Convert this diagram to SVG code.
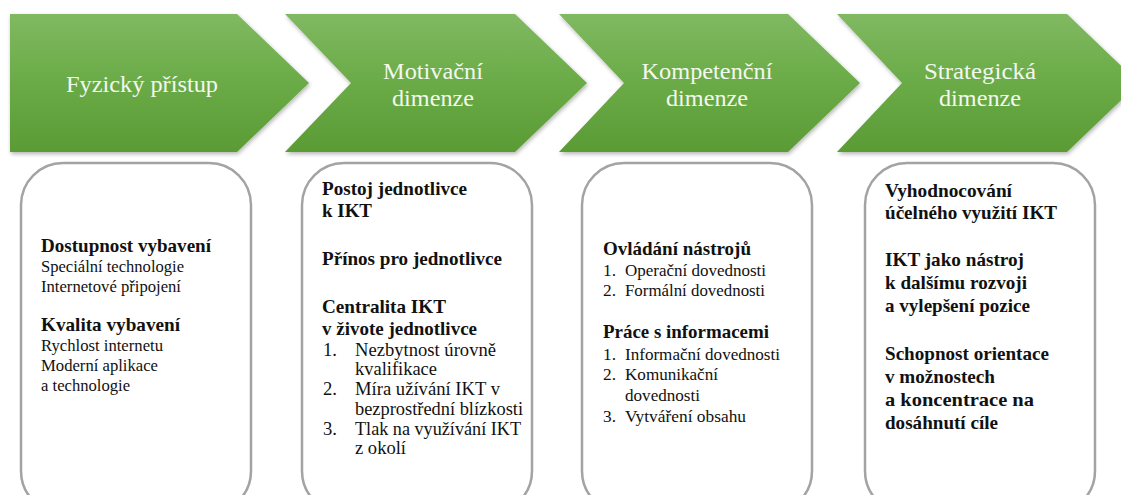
<svg xmlns="http://www.w3.org/2000/svg" width="1121" height="495" viewBox="0 0 1121 495">
  <style>
    .chev { fill: url(#greenGrad); filter: url(#chevShadow); }
    .chevText { font-size: 24px; fill: #f3f8ee; text-anchor: middle; }
    .card { fill: #ffffff; stroke: #a3a3a3; stroke-width: 2.5; }
    .t { fill: #111111; }
    .h { font-weight: bold; font-size: 19px; }
    .r1 { font-size: 16.5px; }
    .r2 { font-size: 18.5px; }
    .r3 { font-size: 17px; }
  </style>
  <defs>
    <linearGradient id="greenGrad" x1="0" y1="0" x2="0" y2="1">
      <stop offset="0" stop-color="#80b961"/>
      <stop offset="0.5" stop-color="#6aab47"/>
      <stop offset="1" stop-color="#5a9b35"/>
    </linearGradient>
    <filter id="chevShadow" x="-5%" y="-10%" width="115%" height="125%">
      <feGaussianBlur in="SourceAlpha" stdDeviation="2"/>
      <feOffset dx="1" dy="2"/>
      <feComponentTransfer><feFuncA type="linear" slope="0.3"/></feComponentTransfer>
      <feMerge><feMergeNode/><feMergeNode in="SourceGraphic"/></feMerge>
    </filter>
  </defs>

  <rect width="1121" height="495" fill="#ffffff"/>

  <!-- chevron headers -->
  <g id="step-fyzicky">
    <polygon class="chev" points="10,14 237,14 309,83 237,152 10,152"/>
    <text class="chevText" font-family="Liberation Serif, DejaVu Serif, serif" x="142" y="92" textLength="152" lengthAdjust="spacingAndGlyphs">Fyzický přístup</text>
  </g>
  <g id="step-motivacni">
    <polygon class="chev" points="285,14 515,14 587,83 515,152 285,152 351,83"/>
    <text class="chevText" font-family="Liberation Serif, DejaVu Serif, serif" x="433" y="79" textLength="100" lengthAdjust="spacingAndGlyphs">Motivační</text>
    <text class="chevText" font-family="Liberation Serif, DejaVu Serif, serif" x="433" y="106" textLength="82" lengthAdjust="spacingAndGlyphs">dimenze</text>
  </g>
  <g id="step-kompetencni">
    <polygon class="chev" points="559,14 788,14 860,83 788,152 559,152 624,83"/>
    <text class="chevText" font-family="Liberation Serif, DejaVu Serif, serif" x="707" y="79" textLength="131" lengthAdjust="spacingAndGlyphs">Kompetenční</text>
    <text class="chevText" font-family="Liberation Serif, DejaVu Serif, serif" x="707" y="106" textLength="82" lengthAdjust="spacingAndGlyphs">dimenze</text>
  </g>
  <g id="step-strategicka">
    <polygon class="chev" points="837,14 1067,14 1139,83 1067,152 837,152 902,83"/>
    <text class="chevText" font-family="Liberation Serif, DejaVu Serif, serif" x="980" y="79" textLength="112" lengthAdjust="spacingAndGlyphs">Strategická</text>
    <text class="chevText" font-family="Liberation Serif, DejaVu Serif, serif" x="980" y="106" textLength="82" lengthAdjust="spacingAndGlyphs">dimenze</text>
  </g>

  <!-- detail cards -->
  <g id="card-fyzicky">
    <rect class="card" x="21" y="163" width="230" height="350" rx="42"/>
    <text class="t h" font-family="Liberation Serif, DejaVu Serif, serif" x="41" y="252" textLength="170" lengthAdjust="spacingAndGlyphs">Dostupnost vybavení</text>
    <text class="t r1" font-family="Liberation Serif, DejaVu Serif, serif" x="41" y="272" textLength="143" lengthAdjust="spacingAndGlyphs">Speciální technologie</text>
    <text class="t r1" font-family="Liberation Serif, DejaVu Serif, serif" x="41" y="292" textLength="140" lengthAdjust="spacingAndGlyphs">Internetové připojení</text>
    <text class="t h" font-family="Liberation Serif, DejaVu Serif, serif" x="41" y="331" textLength="139" lengthAdjust="spacingAndGlyphs">Kvalita vybavení</text>
    <text class="t r1" font-family="Liberation Serif, DejaVu Serif, serif" x="41" y="351" textLength="122" lengthAdjust="spacingAndGlyphs">Rychlost internetu</text>
    <text class="t r1" font-family="Liberation Serif, DejaVu Serif, serif" x="41" y="371" textLength="117" lengthAdjust="spacingAndGlyphs">Moderní aplikace</text>
    <text class="t r1" font-family="Liberation Serif, DejaVu Serif, serif" x="41" y="391" textLength="89" lengthAdjust="spacingAndGlyphs">a technologie</text>
  </g>

  <g id="card-motivacni">
    <rect class="card" x="302" y="163" width="230" height="350" rx="42"/>
    <text class="t h" font-family="Liberation Serif, DejaVu Serif, serif" x="322" y="195" textLength="145" lengthAdjust="spacingAndGlyphs">Postoj jednotlivce</text>
    <text class="t h" font-family="Liberation Serif, DejaVu Serif, serif" x="322" y="217" textLength="50" lengthAdjust="spacingAndGlyphs">k IKT</text>
    <text class="t h" font-family="Liberation Serif, DejaVu Serif, serif" x="322" y="265" textLength="180" lengthAdjust="spacingAndGlyphs">Přínos pro jednotlivce</text>
    <text class="t h" font-family="Liberation Serif, DejaVu Serif, serif" x="322" y="313" textLength="124" lengthAdjust="spacingAndGlyphs">Centralita IKT</text>
    <text class="t h" font-family="Liberation Serif, DejaVu Serif, serif" x="322" y="335" textLength="155" lengthAdjust="spacingAndGlyphs">v živote jednotlivce</text>
    <text class="t r2" font-family="Liberation Serif, DejaVu Serif, serif" x="323" y="356" textLength="14" lengthAdjust="spacingAndGlyphs">1.</text>
    <text class="t r2" font-family="Liberation Serif, DejaVu Serif, serif" x="355" y="356" textLength="141" lengthAdjust="spacingAndGlyphs">Nezbytnost úrovně</text>
    <text class="t r2" font-family="Liberation Serif, DejaVu Serif, serif" x="355" y="375" textLength="82" lengthAdjust="spacingAndGlyphs">kvalifikace</text>
    <text class="t r2" font-family="Liberation Serif, DejaVu Serif, serif" x="323" y="395" textLength="14" lengthAdjust="spacingAndGlyphs">2.</text>
    <text class="t r2" font-family="Liberation Serif, DejaVu Serif, serif" x="355" y="395" textLength="145" lengthAdjust="spacingAndGlyphs">Míra užívání IKT v</text>
    <text class="t r2" font-family="Liberation Serif, DejaVu Serif, serif" x="355" y="415" textLength="168" lengthAdjust="spacingAndGlyphs">bezprostřední blízkosti</text>
    <text class="t r2" font-family="Liberation Serif, DejaVu Serif, serif" x="323" y="435" textLength="14" lengthAdjust="spacingAndGlyphs">3.</text>
    <text class="t r2" font-family="Liberation Serif, DejaVu Serif, serif" x="355" y="435" textLength="166" lengthAdjust="spacingAndGlyphs">Tlak na využívání IKT</text>
    <text class="t r2" font-family="Liberation Serif, DejaVu Serif, serif" x="355" y="454" textLength="51" lengthAdjust="spacingAndGlyphs">z okolí</text>
  </g>

  <g id="card-kompetencni">
    <rect class="card" x="582" y="163" width="230" height="350" rx="42"/>
    <text class="t h" font-family="Liberation Serif, DejaVu Serif, serif" x="603" y="255" textLength="148" lengthAdjust="spacingAndGlyphs">Ovládání nástrojů</text>
    <text class="t r3" font-family="Liberation Serif, DejaVu Serif, serif" x="603" y="276" textLength="13" lengthAdjust="spacingAndGlyphs">1.</text>
    <text class="t r3" font-family="Liberation Serif, DejaVu Serif, serif" x="625" y="276" textLength="141" lengthAdjust="spacingAndGlyphs">Operační dovednosti</text>
    <text class="t r3" font-family="Liberation Serif, DejaVu Serif, serif" x="603" y="296" textLength="13" lengthAdjust="spacingAndGlyphs">2.</text>
    <text class="t r3" font-family="Liberation Serif, DejaVu Serif, serif" x="625" y="296" textLength="140" lengthAdjust="spacingAndGlyphs">Formální dovednosti</text>
    <text class="t h" font-family="Liberation Serif, DejaVu Serif, serif" x="603" y="338" textLength="166" lengthAdjust="spacingAndGlyphs">Práce s informacemi</text>
    <text class="t r3" font-family="Liberation Serif, DejaVu Serif, serif" x="603" y="360" textLength="13" lengthAdjust="spacingAndGlyphs">1.</text>
    <text class="t r3" font-family="Liberation Serif, DejaVu Serif, serif" x="625" y="360" textLength="155" lengthAdjust="spacingAndGlyphs">Informační dovednosti</text>
    <text class="t r3" font-family="Liberation Serif, DejaVu Serif, serif" x="603" y="380" textLength="13" lengthAdjust="spacingAndGlyphs">2.</text>
    <text class="t r3" font-family="Liberation Serif, DejaVu Serif, serif" x="625" y="380" textLength="93" lengthAdjust="spacingAndGlyphs">Komunikační</text>
    <text class="t r3" font-family="Liberation Serif, DejaVu Serif, serif" x="625" y="401" textLength="75" lengthAdjust="spacingAndGlyphs">dovednosti</text>
    <text class="t r3" font-family="Liberation Serif, DejaVu Serif, serif" x="603" y="422" textLength="13" lengthAdjust="spacingAndGlyphs">3.</text>
    <text class="t r3" font-family="Liberation Serif, DejaVu Serif, serif" x="625" y="422" textLength="121" lengthAdjust="spacingAndGlyphs">Vytváření obsahu</text>
  </g>

  <g id="card-strategicka">
    <rect class="card" x="865" y="163" width="230" height="350" rx="42"/>
    <text class="t h" font-family="Liberation Serif, DejaVu Serif, serif" x="885" y="197" textLength="127" lengthAdjust="spacingAndGlyphs">Vyhodnocování</text>
    <text class="t h" font-family="Liberation Serif, DejaVu Serif, serif" x="885" y="219" textLength="172" lengthAdjust="spacingAndGlyphs">účelného využití IKT</text>
    <text class="t h" font-family="Liberation Serif, DejaVu Serif, serif" x="885" y="266" textLength="139" lengthAdjust="spacingAndGlyphs">IKT jako nástroj</text>
    <text class="t h" font-family="Liberation Serif, DejaVu Serif, serif" x="885" y="289" textLength="142" lengthAdjust="spacingAndGlyphs">k dalšímu rozvoji</text>
    <text class="t h" font-family="Liberation Serif, DejaVu Serif, serif" x="885" y="312" textLength="145" lengthAdjust="spacingAndGlyphs">a vylepšení pozice</text>
    <text class="t h" font-family="Liberation Serif, DejaVu Serif, serif" x="885" y="360" textLength="164" lengthAdjust="spacingAndGlyphs">Schopnost orientace</text>
    <text class="t h" font-family="Liberation Serif, DejaVu Serif, serif" x="885" y="383" textLength="110" lengthAdjust="spacingAndGlyphs">v možnostech</text>
    <text class="t h" font-family="Liberation Serif, DejaVu Serif, serif" x="885" y="406" textLength="149" lengthAdjust="spacingAndGlyphs">a koncentrace na</text>
    <text class="t h" font-family="Liberation Serif, DejaVu Serif, serif" x="885" y="429" textLength="113" lengthAdjust="spacingAndGlyphs">dosáhnutí cíle</text>
  </g>
</svg>
